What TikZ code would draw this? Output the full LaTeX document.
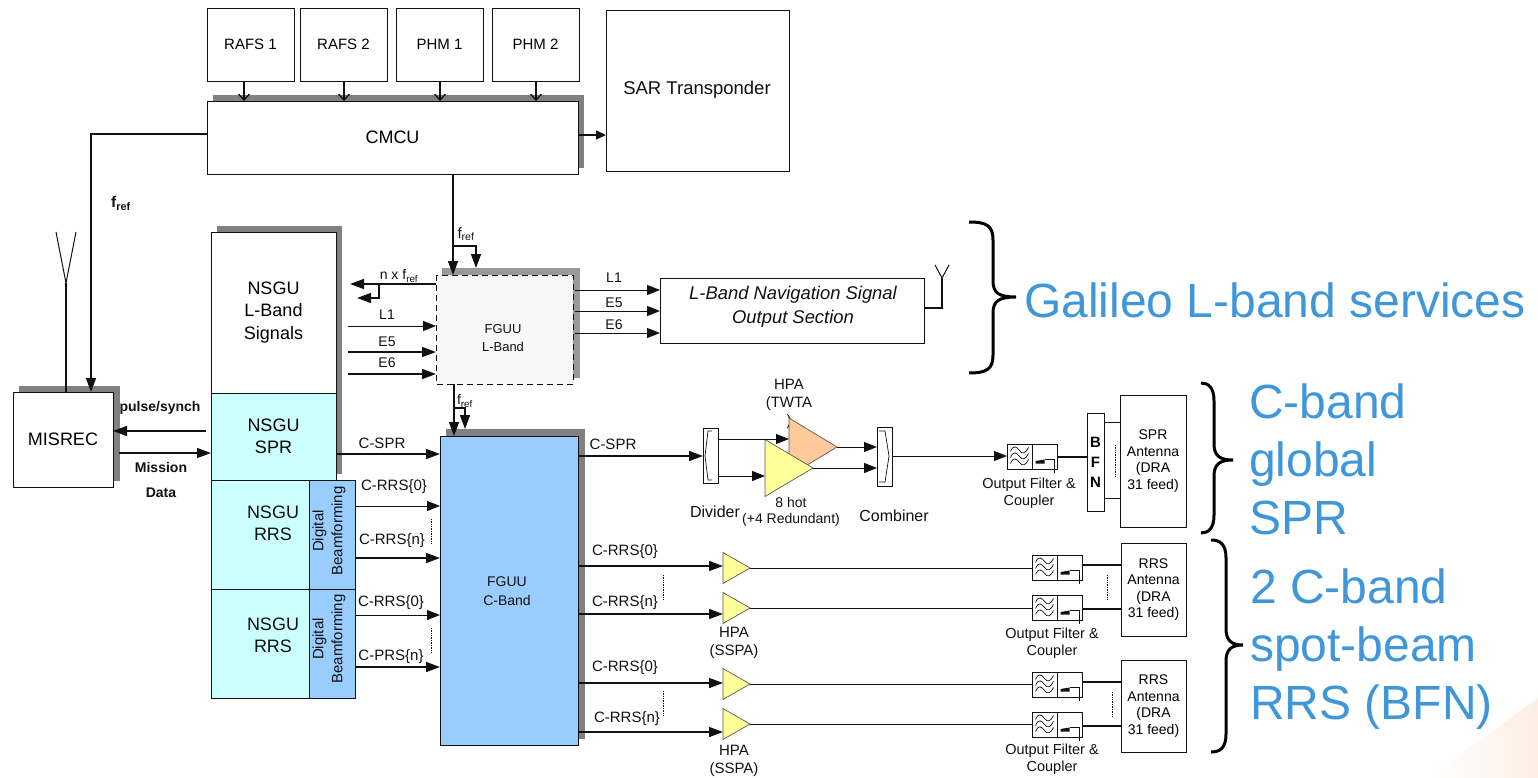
\documentclass[tikz,border=0pt]{standalone}
\usepackage{fontspec}
\setmainfont{Liberation Sans}
\usetikzlibrary{positioning, shapes.geometric, arrows.meta, calc, backgrounds}
\definecolor{ink}{HTML}{111111}
\definecolor{shadow}{HTML}{808080}
\definecolor{cyanbox}{HTML}{CCFFFF}
\definecolor{bluebox}{HTML}{99CCFF}
\definecolor{yellowamp}{HTML}{FFFF99}
\definecolor{orangeamp}{HTML}{FFC999}
\definecolor{service}{HTML}{3F97DA}
\definecolor{cornertint}{HTML}{FDEEE3}
\tikzset{
  fltsym/.pic={
    \foreach \dy in {-6,0,6}
      \draw[ink, line width=.7pt] (-9,\dy+1) .. controls (-6,\dy-6) and (-3,\dy-4) .. (0,\dy) .. controls (3,\dy+4) and (6,\dy+3) .. (9,\dy-3);
  },
  cplsym/.pic={
    \fill[ink] (-9,7) -- (-9,4.5) -- (0,3) -- (0,7) -- cycle;
    \draw[ink, line width=.7pt] (0,3) -- (9.5,3) -- (9.5,16);
  }
}

\begin{document}
\begin{tikzpicture}[
  x=1pt, y=-1pt,
  fsz/.style 2 args={font=\fontsize{#1}{#2}\selectfont},
  box/.style={draw=ink, line width=.9pt, fill=white, inner sep=0pt, outer sep=0pt, align=center, fsz={18}{22.5}},
  sized/.style 2 args={minimum width=#1pt, minimum height=#2pt},
  corner/.style={anchor=north west},
  txt/.style={inner sep=0pt, align=center, text=ink, fsz={15}{18}},
  small/.style={inner sep=0pt, align=center, text=ink, fsz={14}{16.5}},
  bold/.style={inner sep=0pt, align=center, text=ink, font=\fontsize{14}{16}\selectfont\bfseries},
  svc/.style={inner sep=0pt, anchor=west, text=service, fsz={48}{58}},
  shad/.style={fill=shadow},
  amp/.style={draw=ink!70, line width=.7pt, isosceles triangle, isosceles triangle stretches, inner sep=0pt, outer sep=0pt, anchor=lower side, fill=yellowamp},
  arr/.style={-{Triangle[length=14pt, width=10pt]}, line width=1.5pt, ink},
  thinarr/.style={-{Triangle[length=13pt, width=10pt]}, line width=1pt, ink},
  midarr/.style={-{Triangle[length=10pt, width=9pt]}, line width=1.5pt, ink},
  barb/.style={-{Straight Barb[length=6pt, width=11pt]}, line width=1.3pt, ink},
  wire/.style={line width=1pt, ink},
  dots/.style={densely dotted, line width=.7pt, ink},
  bigbrace/.style={line width=3pt, black}
]
  \useasboundingbox (0,0) rectangle (1538,778);
  \shade[left color=white, middle color=cornertint, right color=cornertint] (1428,778) -- (1538,698) -- (1538,778) -- cycle;

  % Clocks, CMCU and SAR
  \node[box, corner, sized={87}{73}, fsz={15}{18}] (rafsa) at (207,8) {RAFS 1};
  \node[box, sized={87}{73}, fsz={15}{18}, right=6pt of rafsa] (rafsb) {RAFS 2};
  \node[box, sized={87}{73}, fsz={15}{18}, right=9pt of rafsb] (phma) {PHM 1};
  \node[box, sized={87}{73}, fsz={15}{18}, right=9pt of phma] (phmb) {PHM 2};
  \node[box, corner, sized={371}{73}] (cmcu) at (207,101) {CMCU};
  \node[box, corner, sized={183}{161}] (sar) at (606,10) {};
  \node[txt, fsz={18.5}{22}] (sart) at (697,90) {SAR Transponder};

  \draw[barb] (rafsa.south -| 244,0) -- (cmcu.north -| 244,0);
  \draw[barb] (rafsb.south -| 344,0) -- (cmcu.north -| 344,0);
  \draw[barb] (phma.south -| 440,0) -- (cmcu.north -| 440,0);
  \draw[barb] (phmb.south -| 536,0) -- (cmcu.north -| 536,0);
  \draw[midarr] (cmcu.east |- 0,135) -- (sar.west |- 0,135);

  % NSGU stack
  \node[box, corner, sized={125}{161}] (nsgul) at (211,232) {NSGU\\L-Band\\Signals};
  \node[box, sized={125}{87}, fill=cyanbox, below=0pt of nsgul] (nsgus) {NSGU\\SPR};
  \node[box, corner, sized={98}{109}, fill=cyanbox] (nsgua) at (211,480) {};
  \node[box, sized={46}{109}, fill=bluebox, right=0pt of nsgua] (dbfa) {};
  \node[box, sized={98}{109}, fill=cyanbox, below=0pt of nsgua] (nsgub) {};
  \node[box, sized={46}{109}, fill=bluebox, right=0pt of nsgub] (dbfb) {};
  \node[txt, fsz={18}{22}] (nsguat) at (273,523) {NSGU\\RRS};
  \node[txt, fsz={18}{22}] (nsgubt) at (273,635) {NSGU\\RRS};
  \node[txt, rotate=90, fsz={15}{19}] (dbfat) at (329,531) {Digital\\Beamforming};
  \node[txt, rotate=90, fsz={15}{19}] (dbfbt) at (329,639) {Digital\\Beamforming};

  % FGUU blocks
  \node[box, corner, sized={137}{109}, draw=none, fill=black!3] (fguul) at (436,275) {};
  \draw[line width=1pt, ink, dash pattern=on 6pt off 4pt] (fguul.north west) rectangle (fguul.south east);
  \node[txt, fsz={13}{18.5}] (fguult) at (503,338) {FGUU\\L-Band};
  \node[box, corner, sized={138}{309}, fill=bluebox] (fguuc) at (440,436) {};
  \node[txt, fsz={14}{19}] (fguuct) at (507,591) {FGUU\\C-Band};

  \begin{scope}[on background layer]
    \fill[shad] ([shift={(6,-6)}]cmcu.south west) rectangle ([shift={(6,-6)}]cmcu.north east);
    \fill[shad] ([shift={(6,-6)}]nsgus.south west) rectangle ([shift={(6,-6)}]nsgul.north east);
    \fill[fill=shadow!80] ([shift={(6,-6)}]fguul.south west) rectangle ([shift={(7,-7)}]fguul.north east);
    \fill[shad] ([shift={(6,-6)}]fguuc.south west) rectangle ([shift={(7,-7)}]fguuc.north east);
  \end{scope}

  % MISREC and reference frequency
  \node[box, corner, sized={100}{95}] (misrec) at (13,392) {MISREC};
  \begin{scope}[on background layer]
    \fill[shad] ([shift={(6,-6)}]misrec.south west) rectangle ([shift={(7,-6)}]misrec.north east);
  \end{scope}
  \coordinate (mant) at (66,283);
  \draw[line width=1.3pt, ink] (misrec.north -| mant) -- (mant);
  \draw[line width=1pt, ink] (56,232) -- (mant) -- (76,232);
  \draw[arr] (cmcu.west |- 0,134) -| (misrec.north -| 91,0);
  \node[bold, font=\fontsize{15.5}{18}\selectfont\bfseries] (freft) at (121,203) {f\textsubscript{ref}};
  \draw[arr] ([xshift=-5pt]nsgus.west |- 0,431) -- (misrec.east |- 0,431);
  \draw[arr] ([xshift=6pt]misrec.east |- 0,453) -- (nsgus.west |- 0,453);
  \node[bold] (pulset) at (160,408) {pulse/synch};
  \node[bold] (misst) at (161,467) {Mission};
  \node[bold] (datat) at (161,493) {Data};

  % f_ref down to the FGUUs
  \draw[arr] (cmcu.south -| 453,0) -- (fguul.north -| 453,0);
  \draw[arr] (453,246) -| ([yshift=7pt]fguul.north -| 476,0);
  \node[txt] (frefa) at (466,234) {f\textsubscript{ref}};
  \draw[arr] (fguul.south -| 454,0) -- (fguuc.north -| 454,0);
  \draw[arr] (454,408) -| ([yshift=7pt]fguuc.north -| 465,0);
  \node[small] (frefb) at (465,401) {f\textsubscript{ref}};
  \draw[arr] (fguul.west |- 0,284) -- ([xshift=14pt]nsgul.east |- 0,284);
  \draw[arr] (379,284) |- (357,298);
  \node[small] (nfref) at (399,276) {n x f\textsubscript{ref}};

  % L-band path
  \draw[thinarr] ([xshift=12pt]nsgul.east |- 0,326) -- (fguul.west |- 0,326);
  \draw[arr] ([xshift=12pt]nsgul.east |- 0,352) -- (fguul.west |- 0,352);
  \draw[arr] ([xshift=12pt]nsgul.east |- 0,374) -- (fguul.west |- 0,374);
  \node[small] (lla) at (387,315) {L1};
  \node[small] (llb) at (387,342) {E5};
  \node[small] (llc) at (387,363) {E6};

  \node[box, corner, sized={264}{65}] (lout) at (660,278) {};
  \node[txt, font=\fontsize{18.4}{24}\selectfont\itshape] (loutt) at (793,307) {L-Band Navigation Signal\\Output Section};
  \draw[thinarr] ([xshift=2pt]fguul.east |- 0,290) -- (lout.west |- 0,290);
  \draw[thinarr] ([xshift=2pt]fguul.east |- 0,311) -- (lout.west |- 0,311);
  \draw[thinarr] ([xshift=2pt]fguul.east |- 0,333) -- (lout.west |- 0,333);
  \node[small] (lra) at (614,278) {L1};
  \node[small] (lrb) at (614,303) {E5};
  \node[small] (lrc) at (614,325) {E6};
  \coordinate (lant) at (942,278);
  \draw[line width=1.3pt, ink] (lout.east |- 0,308) -| (lant);
  \draw[line width=1pt, ink] (935,265) -- (lant) -- (949,265);

  % C-band from NSGU to FGUU
  \draw[arr] (nsgus.east |- 0,454) -- (fguuc.west |- 0,454);
  \draw[thinarr] (dbfa.east |- 0,506) -- (fguuc.west |- 0,506);
  \draw[arr] (dbfa.east |- 0,558) -- (fguuc.west |- 0,558);
  \draw[thinarr] (dbfb.east |- 0,615) -- (fguuc.west |- 0,615);
  \draw[arr] (dbfb.east |- 0,667) -- (fguuc.west |- 0,667);
  \node[txt] (csa) at (382,443) {C-SPR};
  \node[txt] (cra) at (394,487) {C-RRS\{0\}};
  \node[txt] (crb) at (392,541) {C-RRS\{n\}};
  \node[txt] (crc) at (391,603) {C-RRS\{0\}};
  \node[txt] (crd) at (391,657) {C-PRS\{n\}};
  \draw[dots] (431,519) -- (431,544);
  \draw[dots] (431,628) -- (431,653);

  % SPR chain
  \node[box, corner, sized={15}{55}] (divider) at (703,428) {};
  \draw[line width=.7pt, ink] (712,431) -- (708,431) -- (705,456) -- (708,480) -- (712,480);
  \node[box, corner, sized={15}{59}] (combiner) at (877,427) {};
  \draw[line width=.7pt, ink] (879,431) -- (885,431) -- (889,456) -- (885,482) -- (879,482);
  \node[txt] (twtat) at (789,404) {HPA\\(TWTA\\)};
  \node[amp, fill=orangeamp, minimum width=58pt, minimum height=48pt] (twta) at (789,447) {};
  \node[amp, minimum width=57pt, minimum height=48pt] (hpas) at (765,468) {};
  \draw[arr] (fguuc.east |- 0,456) -- (divider.west |- 0,456);
  \draw[thinarr] (divider.east |- 0,439) -- (twta.lower side |- 0,439);
  \draw[thinarr] (divider.east |- 0,476) -- (hpas.lower side |- 0,476);
  \draw[thinarr] (twta.apex) -- (combiner.west |- twta.apex);
  \draw[thinarr] (hpas.apex) -- (combiner.west |- hpas.apex);
  \node[txt, fsz={16}{18}] (divt) at (715,512) {Divider};
  \node[small] (hott) at (791,512) {8 hot\\(+4 Redundant)};
  \node[txt, fsz={16}{18}] (combt) at (894,516) {Combiner};
  \node[txt] (csb) at (613,444) {C-SPR};

  \foreach \i/\x/\y in {0/1007/444,1/1032/555,2/1032/595,3/1032/672,4/1032/712} {
    \node[box, corner, sized={25}{25}] (filt\i) at (\x,\y) {};
    \node[box, sized={25}{25}, right=0pt of filt\i] (coup\i) {};
    \pic at (filt\i) {fltsym};
    \pic at (coup\i) {cplsym};
  }
  \draw[thinarr] (combiner.east |- 0,456) -- (filt0.west |- 0,456);
  \node[box, corner, sized={17}{98}, font=\fontsize{15}{20}\selectfont\bfseries] (bfn) at (1087,413) {B\\F\\N};
  \draw[wire, line width=1.5pt] (coup0.east |- 0,457) -- (bfn.west |- 0,457);
  \node[box, corner, sized={66}{132}, fsz={14}{16.5}] (sprant) at (1120,395) {SPR\\Antenna\\(DRA\\31 feed)};
  \draw[wire] (bfn.east |- 0,422) -- (sprant.west |- 0,422);
  \draw[wire] (bfn.east |- 0,498) -- (sprant.west |- 0,498);
  \draw[dots] (1115,445) -- (1115,476);
  \node[small, fsz={14.5}{17}] (outa) at (1029,493) {Output Filter \&\\Coupler};

  % RRS chains
  \node[box, corner, sized={65}{93}, fsz={14}{16.5}] (rrsa) at (1121,543) {RRS\\Antenna\\(DRA\\31 feed)};
  \node[box, corner, sized={65}{92}, fsz={14}{16.5}] (rrsb) at (1121,660) {RRS\\Antenna\\(DRA\\31 feed)};
  \foreach \i/\ya/\yb/\yc/\ant/\xl/\yl/\lab in {1/566/568/565/rrsa/625/552/C-RRS\{0\},2/614/608/609/rrsa/625/603/C-RRS\{n\},3/683/684/682/rrsb/625/668/C-RRS\{0\},4/732/724/726/rrsb/627/719/C-RRS\{n\}} {
    \node[amp, minimum width=31pt, minimum height=27pt] (amp\i) at (723,\yb) {};
    \draw[arr] (fguuc.east |- 0,\ya) -- (amp\i.lower side |- 0,\ya);
    \draw[wire] (amp\i.apex) -- (filt\i.west |- amp\i.apex);
    \draw[wire, line width=1.5pt] (coup\i.east |- 0,\yc) -- (\ant.west |- 0,\yc);
    \node[txt] (clab\i) at (\xl,\yl) {\lab};
  }
  \draw[dots] (663,575) -- (663,600);
  \draw[dots] (663,691) -- (663,716);
  \node[txt] (hppa) at (734,643) {HPA\\(SSPA)};
  \node[txt] (hppb) at (734,761) {HPA\\(SSPA)};
  \node[small, fsz={14.5}{17}] (outb) at (1052,643) {Output Filter \&\\Coupler};
  \node[small, fsz={14.5}{17}] (outc) at (1052,759) {Output Filter \&\\Coupler};
  \draw[dots] (1107,575) -- (1107,600);
  \draw[dots] (1112,692) -- (1112,717);

  % Service braces
  \foreach \xa/\xb/\xc/\ya/\yb/\yc in {969/993/1016/222/297/373, 1201/1214/1233/383/460/533, 1211/1226/1243/540/645/752}
    \draw[bigbrace] (\xa,\ya) .. controls (\xb-6,\ya) and (\xb,\ya+4) .. (\xb,\ya+18) -- (\xb,\yb-16) .. controls (\xb,\yb-4) and (\xb+6,\yb) .. (\xc,\yb) .. controls (\xb+6,\yb) and (\xb,\yb+4) .. (\xb,\yb+16) -- (\xb,\yc-18) .. controls (\xb,\yc-4) and (\xb-6,\yc) .. (\xa,\yc);
  \node[svc] (galt) at (1024,300) {Galileo L-band services};
  \node[svc, align=left] (sprt) at (1249,459) {C-band\\global\\SPR};
  \node[svc, align=left] (rrst) at (1250,649) {2 C-band\\spot-beam\\RRS (BFN)};
\end{tikzpicture}
\end{document}
